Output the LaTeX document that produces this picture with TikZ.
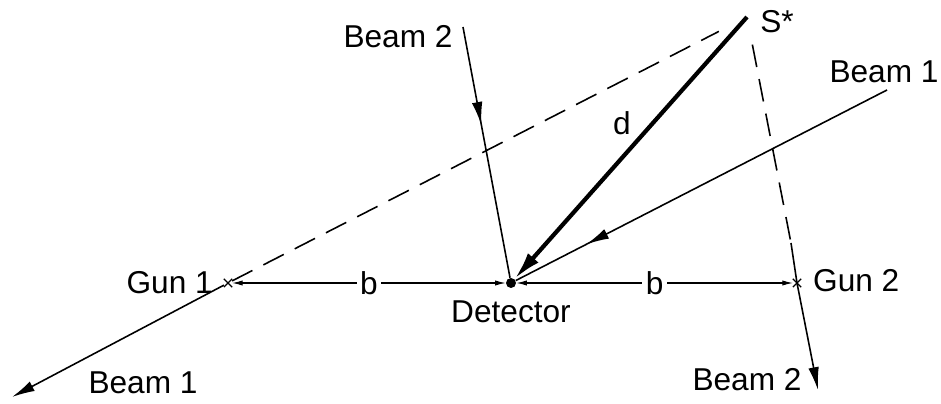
\documentclass[tikz,border=0pt]{standalone}
\usepackage{fontspec}
\setmainfont{Liberation Sans}
\usetikzlibrary{arrows.meta, decorations.markings, shapes.misc}

\begin{document}
\begin{tikzpicture}[
    x=0.02cm, y=-0.02cm,
    every node/.style={font=\fontsize{18}{20}\selectfont},
    beam/.style={line width=0.9pt},
    guide/.style={line width=0.9pt, dash pattern=on 13pt off 7pt},
    beamarrow/.style={-{Latex[length=13pt, width=6pt]}},
    midarrow/.style={postaction={decorate}, decoration={markings,
        mark=at position #1 with {\arrow{Latex[length=13pt, width=6pt]}}}},
    distarrow/.style={line width=2.4pt, -{Latex[length=16pt, width=8pt]}},
    dim/.style={line width=0.6pt, {Latex[length=6pt, width=3pt]}-{Latex[length=6pt, width=3pt]}},
    gunmark/.style={cross out, draw, line width=0.7pt, minimum size=4pt, inner sep=0pt},
    detmark/.style={circle, fill, minimum size=0.2cm, inner sep=0pt}
]
\useasboundingbox (0,0) rectangle (941,404);

% Points
\node[detmark] (det) at (511,283) {};
\node[gunmark] (gunA) at (228,283) {};
\node[gunmark] (gunB) at (797,283) {};
\coordinate (src) at (747,17);
\coordinate (beamAin) at (887,90);
\coordinate (beamAout) at (12,397);
\coordinate (beamBin) at (463,27);
\coordinate (beamBbend) at (791,243);
\coordinate (beamBout) at (818,390);

% Beams
\draw[beam, midarrow=0.81] (beamAin) -- (det);
\draw[beam, midarrow=0.39] (beamBin) -- (det);
\draw[beam, beamarrow] (gunA) -- (beamAout);
\draw[beam, beamarrow] (beamBbend) -- (gunB.center) -- (beamBout);

% Back-projected rays
\draw[guide, shorten >=18pt] (gunA) -- (src);
\draw[guide, shorten <=16pt] (src) -- (beamBbend);

% Distance d
\draw[distarrow] (src) -- (det);

% Baselines
\draw[dim] (gunA) -- node[fill=white, inner sep=2pt] (bA) {b} (det);
\draw[dim] (det) -- node[fill=white, inner sep=2pt] (bB) {b} (gunB);

% Labels
\node[anchor=east] (lgunA) at (219,283) {Gun 1};
\node[anchor=west] (lgunB) at (807,281) {Gun 2};
\node (ldet) at (511,312) {Detector};
\node (lsrc) at (777,22) {S*};
\node (ld) at (622,123) {d};
\node (lbeamAin) at (884,72) {Beam 1};
\node (lbeamAout) at (143,383) {Beam 1};
\node (lbeamBin) at (398,37) {Beam 2};
\node (lbeamBout) at (747,380) {Beam 2};

\end{tikzpicture}
\end{document}
